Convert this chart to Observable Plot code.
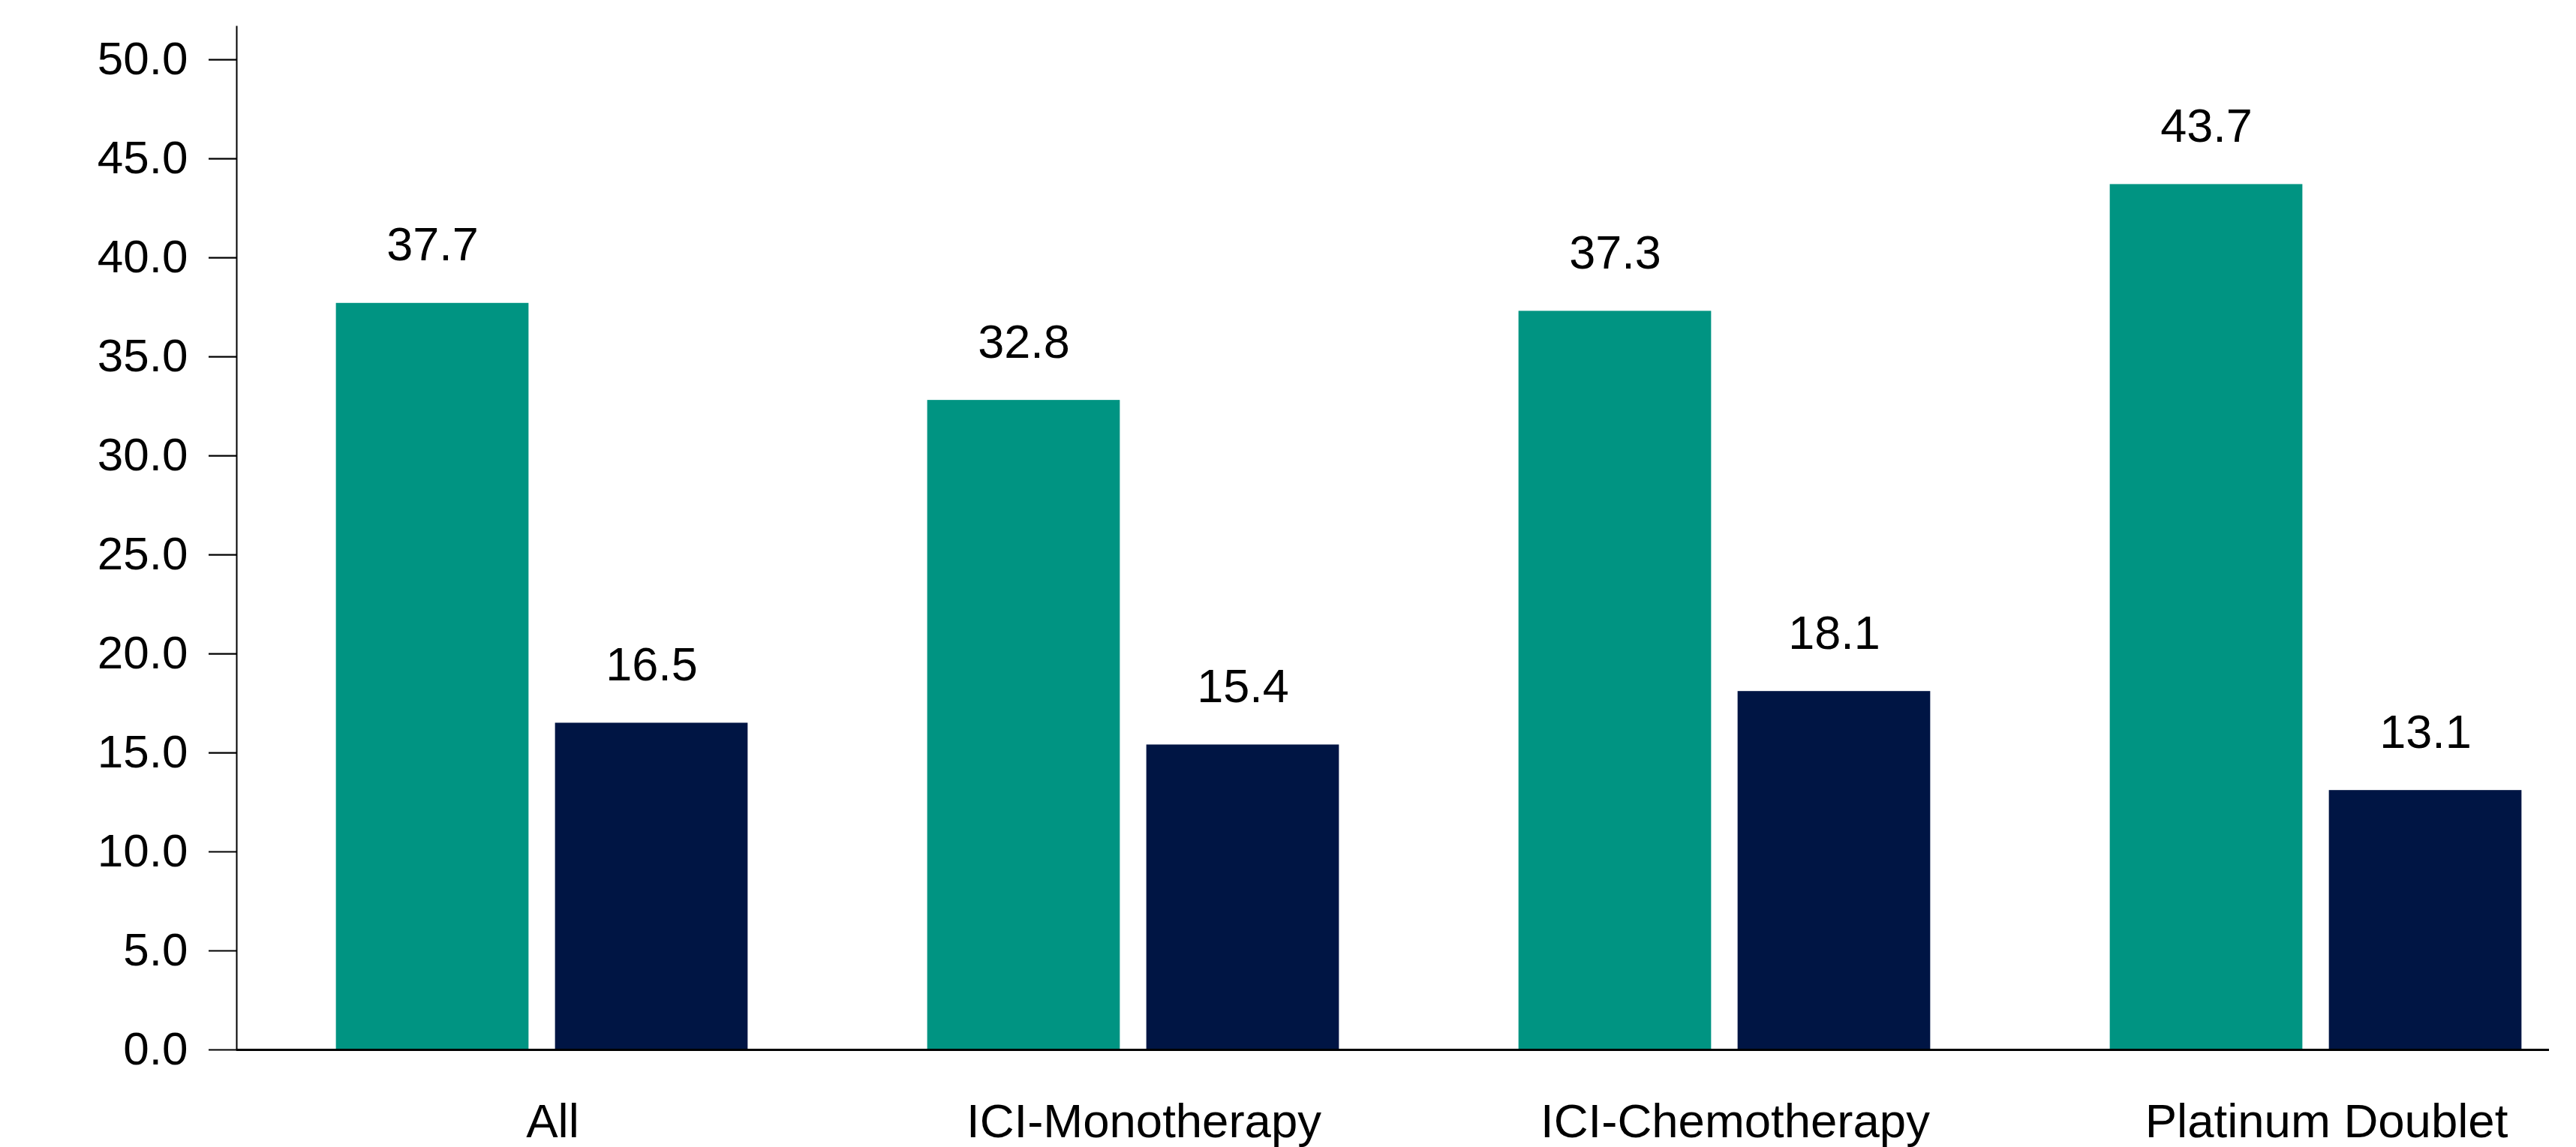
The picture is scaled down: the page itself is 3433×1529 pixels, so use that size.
<!DOCTYPE html>
<html>
<head>
<meta charset="utf-8">
<script src="https://cdn.jsdelivr.net/npm/d3@7"></script>
<script src="https://cdn.jsdelivr.net/npm/@observablehq/plot@0.6"></script>
<style>
  html, body { margin: 0; padding: 0; background: #fff; }
  #chart svg { display: block; }
</style>
</head>
<body>
<div id="chart"></div>
<script>
// Treatment groups along the x axis
const groups = ["All", "ICI-Monotherapy", "ICI-Chemotherapy", "Platinum Doublet"];
// First (teal) and second (navy) series values per group
const seriesA = [37.7, 32.8, 37.3, 43.7];
const seriesB = [16.5, 15.4, 18.1, 13.1];
// Y axis tick values
const yTicks = [0, 5, 10, 15, 20, 25, 30, 35, 40, 45, 50];

const tealColor = "#009482";
const navyColor = "#001544";

const rowsA = groups.map((g, i) => ({group: g, value: seriesA[i]}));
const rowsB = groups.map((g, i) => ({group: g, value: seriesB[i]}));

const W = 3433, H = 1529;
const fontFamily = "'Liberation Sans', Arial, Helvetica, sans-serif";

// group band geometry
const step = 788.3;
const x0 = 327.35;
const half = step / 2;
const barOuter = 274.5;  // distance from group centre to outer bar edge
const barInner = 17.5;   // half of the gap between paired bars
const labelShift = (barOuter + barInner) / 2;

const chart = Plot.plot({
  width: W,
  height: H,
  marginLeft: 315,
  marginRight: 36,
  marginTop: 35,
  marginBottom: 130,
  style: {fontFamily, fontSize: "62px", color: "#000", background: "#fff"},
  x: {
    type: "band",
    domain: groups,
    range: [x0, x0 + step * groups.length],
    padding: 0
  },
  y: {domain: [0, 51.67], nice: false},
  marks: [
    Plot.barY(rowsA, {
      x: "group", y: "value", fill: tealColor,
      insetLeft: half - barOuter, insetRight: half + barInner
    }),
    Plot.barY(rowsB, {
      x: "group", y: "value", fill: navyColor,
      insetLeft: half + barInner, insetRight: half - barOuter
    }),
    Plot.text(rowsA, {
      x: "group", y: "value", text: d => d.value.toFixed(1),
      dx: -labelShift, dy: -77, fill: "#000", fontSize: 63
    }),
    Plot.text(rowsB, {
      x: "group", y: "value", text: d => d.value.toFixed(1),
      dx: labelShift, dy: -77, fill: "#000", fontSize: 63
    }),
    Plot.axisY({
      ticks: yTicks, tickFormat: d => d.toFixed(1),
      tickSize: 37, tickPadding: 28, strokeWidth: 2.2, label: null,
      fontSize: 62
    }),
    Plot.axisX({
      tickSize: 0, tickPadding: 71, dx: 14, label: null, fontSize: 63.5
    }),
    Plot.frame({anchor: "left", stroke: "#000", strokeWidth: 2}),
    Plot.ruleY([0], {stroke: "#000", strokeWidth: 3})
  ]
});

document.getElementById("chart").appendChild(chart);
</script>
</body>
</html>
